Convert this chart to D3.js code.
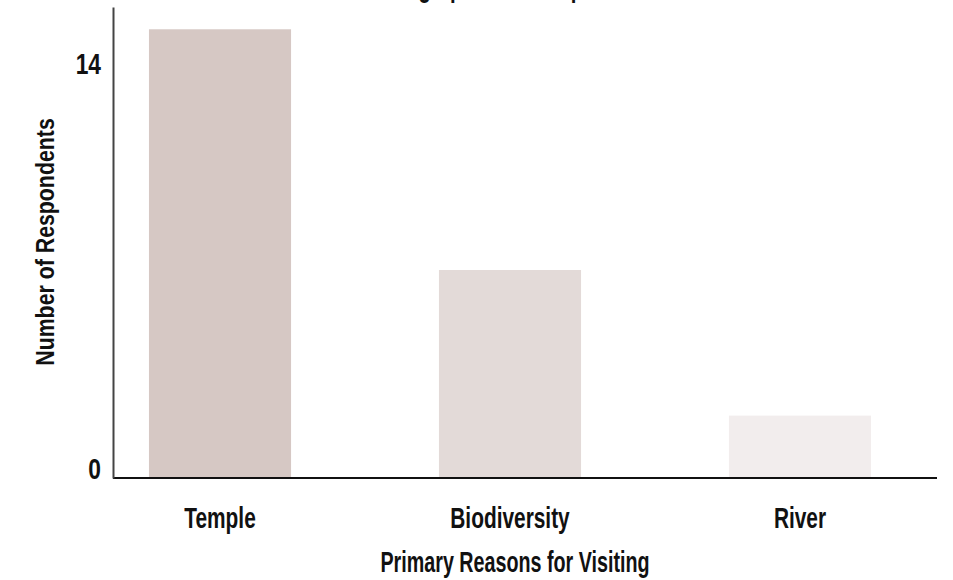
<!DOCTYPE html>
<html>
<head>
<meta charset="utf-8">
<script src="https://cdn.jsdelivr.net/npm/d3@7"></script>
<style>
	body { margin: 0; background: #fff; }
	text { font-family: "Liberation Sans Narrow", "Liberation Sans", sans-serif; font-weight: bold; fill: #111; }
</style>
</head>
<body>
<div id="barDiv"></div>
<script>
const reasons = ["Temple", "Biodiversity", "River"];
const respondents = [15.1, 7, 2.1];
const barColors = ["#d6c8c4", "#e3dad8", "#f2eded"];
const yTickValues = [0, 14];
const chartTitle = "Demographics of Respondents";
const xTitle = "Primary Reasons for Visiting";
const yTitle = "Number of Respondents";

const W = 953, H = 580;
const margin = { left: 113, right: 46, top: 7, bottom: 102 };

const svg = d3.select("#barDiv").append("svg")
	.attr("width", W)
	.attr("height", H);

const xScale = d3.scaleBand()
	.domain(reasons)
	.range([margin.left, 907])
	.paddingInner(0.51)
	.paddingOuter(0.124);

const yScale = d3.scaleLinear()
	.domain([0, 15.85])
	.range([H - margin.bottom, margin.top]);

//bars
svg.append("g").attr("class", "bars")
	.selectAll("rect")
	.data(reasons)
	.enter()
	.append("rect")
	.attr("x", d => xScale(d))
	.attr("width", xScale.bandwidth())
	.attr("y", (d, i) => yScale(respondents[i]))
	.attr("height", (d, i) => yScale(0) - yScale(respondents[i]))
	.attr("fill", (d, i) => barColors[i]);

// no condensed face installed, so squeeze the glyphs sideways
function squeezeText(sel, size, sq){
	sel.each(function(){
		const t = d3.select(this);
		const x = +t.attr("x") || 0, y = +t.attr("y") || 0;
		t.attr("x", null).attr("y", null)
			.style("font-size", size + "px")
			.attr("transform", `translate(${x},${y}) scale(${sq},1)`);
	});
}

//x axis
const xAxisG = svg.append("g")
	.attr("transform", `translate(0,${yScale(0)})`)
	.call(d3.axisBottom(xScale).tickSize(0).tickPadding(0));
xAxisG.select(".domain")
	.attr("d", `M${margin.left},0H${W - 16}`)
	.attr("stroke", "#111")
	.attr("stroke-width", 2);
xAxisG.selectAll(".tick text")
	.attr("dy", null)
	.attr("y", 50)
	.attr("x", 0)
	.call(squeezeText, 29, 0.72);

//y axis
const yAxisG = svg.append("g")
	.attr("transform", `translate(${margin.left},0)`)
	.call(d3.axisLeft(yScale).tickValues(yTickValues).tickSize(0).tickPadding(0));
yAxisG.select(".domain")
	.attr("stroke", "#444")
	.attr("stroke-width", 2);
yAxisG.selectAll(".tick text")
	.attr("dy", null)
	.attr("x", -12)
	.attr("y", d => d === 0 ? 0 : 12)
	.call(squeezeText, 30, 0.76);

//titles
svg.append("text")
	.attr("text-anchor", "middle")
	.attr("x", 515).attr("y", 572)
	.text(xTitle)
	.call(squeezeText, 29, 0.68);

svg.append("g")
	.attr("transform", `translate(54,242) rotate(-90)`)
	.append("text")
	.attr("text-anchor", "middle")
	.text(yTitle)
	.call(squeezeText, 26, 0.82);

svg.append("text")
	.attr("text-anchor", "middle")
	.attr("x", 512).attr("y", -3)
	.text(chartTitle)
	.call(squeezeText, 29, 0.7);
</script>
</body>
</html>
